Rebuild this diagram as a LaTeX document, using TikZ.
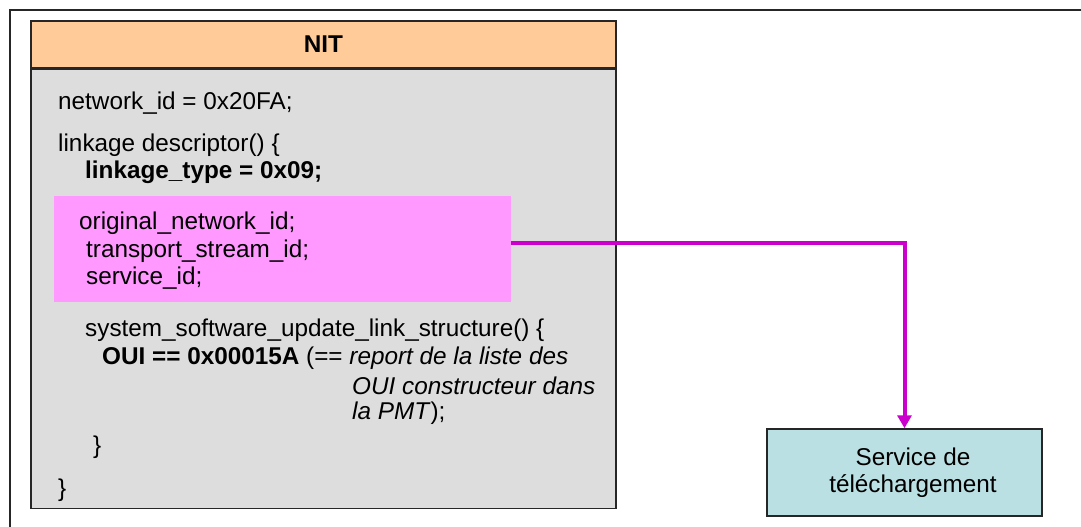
\documentclass[tikz,border=0pt]{standalone}
\usepackage{fontspec}
\setmainfont{Liberation Sans}
\usepackage{xcolor}
\usepackage{tikz}
\usetikzlibrary{arrows.meta, positioning}
\definecolor{headfill}{HTML}{FFCC99}
\definecolor{bodyfill}{HTML}{DDDDDD}
\definecolor{idfill}{HTML}{FF99FF}
\definecolor{linkcol}{HTML}{CC00CC}
\definecolor{svcfill}{HTML}{BBE0E3}

\begin{document}
\begin{tikzpicture}[x=1pt, y=-1pt, >=Stealth,
    every node/.style={font=\fontsize{24.3}{27.5}\selectfont, inner sep=0pt},
    txt/.style={anchor=west},
    headbox/.style={draw=black!85, line width=1.2pt, fill=headfill},
    bodybox/.style={draw=black!85, line width=1.2pt, fill=bodyfill},
    idbox/.style={fill=idfill},
    svcbox/.style={draw=black!85, line width=1.5pt, fill=svcfill, align=center},
    link/.style={draw=linkcol, line width=4pt,
        -{Triangle[width=14pt, length=13pt]}}]

    \useasboundingbox (0,0) rectangle (1081,527);
    \clip (0,0) rectangle (1081,527);

    % Frame round the whole page (runs off right and bottom)
    \draw[line width=1.5pt, black!85] (10,540) -- (10,10) -- (1095,10);

    % NIT table: header and body
    \node[headbox, minimum width=585pt, minimum height=47pt] (nit) at (323.5,44.5) {\textbf{NIT}};
    \node[bodybox, minimum width=585pt, minimum height=439pt, anchor=north] (nitbody) at (nit.south) {};

    % Highlighted ids inside the linkage descriptor
    \node[idbox, minimum width=457pt, minimum height=106pt] (ids) at (282.5,249) {};

    % Lines of the descriptor
    \node[txt] (netid) at (58,103) {network\_id = 0x20FA;};
    \node[txt] (lnkdesc) at (58,145) {linkage descriptor() \{};
    \node[txt] (lnktype) at (85,172) {\textbf{linkage\_type = 0x09;}};
    \node[txt] (onid) at (79,223) {original\_network\_id;};
    \node[txt] (tsid) at (86,251) {transport\_stream\_id;};
    \node[txt] (sid) at (86,278) {service\_id;};
    \node[txt] (ssu) at (85,330) {system\_software\_update\_link\_structure() \{};
    \node[txt] (oui) at (102,358) {\textbf{OUI == 0x00015A} (== \textit{report de la liste des}};
    \node[txt] (oui2) at (352,386) {\textit{OUI constructeur dans}};
    \node[txt] (oui3) at (352,413) {\textit{la PMT});};
    \node[txt] (close1) at (93,447) {\}};
    \node[txt] (close2) at (58,490) {\}};

    % Target service
    \node[svcbox, minimum width=275pt, minimum height=87pt] (svc) at (904.5,472.5) {\hspace*{17pt}Service de\\\hspace*{17pt}téléchargement};

    % Link from the ids to the service
    \draw[link] ([yshift=6pt]ids.east) -| (svc.north);

\end{tikzpicture}
\end{document}
